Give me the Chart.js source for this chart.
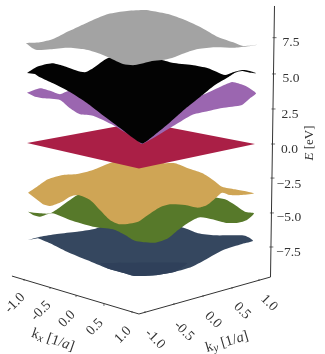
<!DOCTYPE html>
<html>
<head>
<meta charset="utf-8">
<script src="https://cdn.jsdelivr.net/npm/chart.js@4"></script>
<style>
  html, body { margin: 0; padding: 0; background: #fff; }
  canvas { display: block; }
</style>
</head>
<body>
<canvas id="bands" width="325" height="354"></canvas>
<script>
// Band outlines as seen from the camera: u = position across the view, E = energy on the vertical axis
const greyU = [-1.01, -0.886, -0.772, -0.667, -0.553, -0.421, -0.289, -0.123, 0.035, 0.096, 0.237, 0.386, 0.535, 0.675, 0.825, 0.895, 1.018, 0.939, 0.825, 0.649, 0.5, 0.386, 0.272, 0.184, 0.096, -0.053, -0.158, -0.272, -0.386, -0.509, -0.649, -0.798, -0.912, -0.956];
const greyE = [7.27, 7.32, 7.55, 7.99, 8.42, 8.92, 9.35, 9.57, 9.64, 9.57, 9.35, 8.92, 8.35, 7.7, 7.27, 7.05, 7.14, 7.03, 6.93, 6.96, 6.83, 6.55, 6.19, 6.04, 5.97, 5.68, 5.76, 6.19, 6.57, 6.83, 6.93, 6.81, 6.76, 6.91];

const blackU = [-1.0, -0.912, -0.781, -0.684, -0.561, -0.491, -0.421, -0.289, -0.053, 0.184, 0.272, 0.447, 0.588, 0.737, 0.798, 0.886, 0.956, 1.009, 0.956, 0.886, 0.825, 0.763, 0.649, 0.518, 0.386, 0.237, 0.096, 0.009, -0.184, -0.36, -0.474, -0.623, -0.772, -0.886, -0.93];
const blackE = [5.11, 5.56, 5.81, 5.63, 5.27, 5.16, 5.45, 6.19, 6.4, 6.04, 5.85, 5.68, 5.45, 4.96, 5.13, 5.32, 5.25, 5.09, 5.13, 5.25, 5.13, 4.8, 4.24, 3.38, 2.52, 1.44, 0.5, 0.04, 1.15, 2.23, 2.95, 3.74, 4.37, 4.8, 5.04];

const purpleU = [-1.0, -0.886, -0.798, -0.711, -0.632, -0.36, 0, 0.43, 0.561, 0.711, 0.798, 0.851, 0.93, 1.009, 0.956, 0.886, 0.711, 0.561, 0.447, 0.298, 0.009, -0.035, -0.246, -0.421, -0.535, -0.623, -0.711, -0.86, -0.93];
const purpleE = [3.69, 4.01, 3.83, 3.58, 3.81, 3.17, 1.01, 3.17, 3.6, 4.17, 4.46, 4.37, 4.12, 3.65, 3.29, 2.81, 2.59, 2.32, 2.09, 1.37, 0, 0.29, 1.37, 2.04, 2.14, 2.57, 3.17, 3.29, 3.4];

const redU = [-1.0, 0, 1.0, -0.018];
const redE = [0.07, 1.58, 0, -1.76];

const yellowU = [-0.991, -0.912, -0.816, -0.684, -0.561, -0.421, -0.272, 0, 0.193, 0.298, 0.412, 0.535, 0.632, 0.711, 0.825, 0.991, 0.886, 0.781, 0.711, 0.667, 0.579, 0.5, 0.386, 0.254, 0.167, 0.061, -0.026, -0.184, -0.272, -0.36, -0.447, -0.553, -0.623, -0.693, -0.798, -0.86];
const yellowE = [-3.5, -3.07, -2.54, -2.23, -2.16, -1.87, -1.37, -0.79, -1.37, -1.39, -1.75, -2.09, -2.59, -3.07, -3.26, -3.55, -3.67, -3.67, -3.5, -3.79, -4.39, -4.58, -4.39, -4.34, -4.55, -5.11, -5.59, -5.78, -5.47, -4.75, -4.03, -3.67, -3.79, -4.15, -4.46, -4.34];

const greenU = [-0.991, -0.886, -0.798, -0.711, -0.623, -0.553, 0, 0.518, 0.649, 0.737, 0.825, 0.912, 0.991, 0.93, 0.851, 0.737, 0.623, 0.518, 0.43, 0.325, 0.237, 0.123, -0.053, -0.14, -0.246, -0.421, -0.623, -0.781, -0.886, -0.947];
const greenE = [-4.87, -4.99, -4.99, -4.55, -4.03, -3.67, -2.95, -3.31, -3.83, -3.98, -4.39, -4.87, -4.99, -5.47, -5.66, -5.66, -5.42, -5.27, -5.59, -6.19, -6.78, -7.1, -6.96, -6.55, -6.14, -5.95, -5.47, -4.99, -5.23, -5.11];

const blueU = [-0.991, -0.886, -0.737, -0.561, -0.421, 0, 0.386, 0.5, 0.649, 0.798, 0.912, 0.982, 0.886, 0.737, 0.588, 0.447, 0.298, 0.123, -0.053, -0.123, -0.298, -0.474, -0.649, -0.798, -0.904];
const blueE = [-6.91, -6.67, -6.47, -6.31, -6.14, -5.11, -6.06, -6.42, -6.57, -6.57, -6.6, -6.96, -7.19, -7.58, -8.22, -8.83, -9.19, -9.45, -9.5, -9.35, -8.94, -8.35, -7.75, -7.14, -6.78];

// darker front fold of the lowest band
const blueFoldU = [-0.36, 0.404, 0.298, 0.123, -0.053, -0.123, -0.298];
const blueFoldE = [-8.56, -8.56, -9.19, -9.45, -9.5, -9.35, -8.94];

// Box edges
const axisU = [-1.132, -0.018, 1.136, 1.171];
const axisE = [-9.5, -12.23, -9.57, 9.93];

// E axis ticks
const energyLabels = ['7.5', '5.0', '2.5', '0.0', '\u22122.5', '\u22125.0', '\u22127.5'];
const energyTickU = [1.167, 1.162, 1.158, 1.154, 1.149, 1.144, 1.139];
const energyTickE = [7.65, 5.04, 2.52, 0, -2.45, -4.96, -7.41];
const energyLabelU = [1.316, 1.316, 1.307, 1.303, 1.298, 1.298, 1.294];
const energyLabelE = [7.27, 4.7, 2.16, -0.36, -2.88, -5.3, -7.77];

// kx and ky ticks share the same labels
const momentumLabels = ['-1.0', '-0.5', '0.0', '0.5', '1.0'];
const kxTickU = [-1.026, -0.798, -0.57, -0.325, -0.079];
const kxTickE = [-9.78, -10.36, -10.94, -11.58, -12.09];
const kyTickU = [0.035, 0.289, 0.544, 0.798, 1.035];
const kyTickE = [-12.09, -11.51, -10.94, -10.36, -9.78];
const kxLabelU = [-1.105, -0.877, -0.649, -0.404, -0.158];
const kxLabelE = [-11.44, -12.01, -12.59, -13.17, -13.74];
const kyLabelU = [0.123, 0.377, 0.632, 0.886, 1.123];
const kyLabelE = [-14.03, -13.45, -12.66, -12.01, -11.44];

const FONT = '"Liberation Serif", serif';

function band(us, es, color, tension) {
  return {
    data: us.map((u, i) => ({ x: u, y: es[i] })),
    showLine: true,
    fill: 'shape',
    backgroundColor: color,
    borderWidth: 0,
    pointRadius: 0,
    tension: tension
  };
}

// Draws "k_x [1/a]" style labels piece by piece, centred and rotated
function drawRuns(ctx, runs, x, y, angle, size) {
  ctx.save();
  ctx.translate(x, y);
  ctx.rotate(angle);
  ctx.textAlign = 'left';
  ctx.textBaseline = 'middle';
  const fontFor = r => (r.italic ? 'italic ' : '') + (r.sub ? size - 3 : size) + 'px ' + FONT;
  let width = 0;
  runs.forEach(r => { ctx.font = fontFor(r); width += ctx.measureText(r.text).width; });
  let pos = -width / 2;
  runs.forEach(r => {
    ctx.font = fontFor(r);
    ctx.fillText(r.text, pos, r.sub ? 3 : 0);
    pos += ctx.measureText(r.text).width;
  });
  ctx.restore();
}

const axisText = {
  id: 'axisText',
  afterDatasetsDraw(chart) {
    const ctx = chart.ctx;
    const sx = chart.scales.x;
    const sy = chart.scales.y;
    const px = u => sx.getPixelForValue(u);
    const py = e => sy.getPixelForValue(e);

    ctx.save();
    ctx.fillStyle = '#333';
    ctx.strokeStyle = '#333';
    ctx.lineWidth = 0.7;

    energyLabels.forEach((label, i) => {
      ctx.beginPath();
      ctx.moveTo(px(energyTickU[i]) - 1.5, py(energyTickE[i]));
      ctx.lineTo(px(energyTickU[i]) + 2.5, py(energyTickE[i]));
      ctx.stroke();
      drawRuns(ctx, [{ text: label }], px(energyLabelU[i]), py(energyLabelE[i]), 0, 13.5);
    });

    momentumLabels.forEach((label, i) => {
      // little ticks on the floor edges
      ctx.beginPath();
      ctx.moveTo(px(kxTickU[i]), py(kxTickE[i]) - 1);
      ctx.lineTo(px(kxTickU[i]), py(kxTickE[i]) + 1);
      ctx.moveTo(px(kyTickU[i]), py(kyTickE[i]) - 1);
      ctx.lineTo(px(kyTickU[i]), py(kyTickE[i]) + 1);
      ctx.stroke();
      drawRuns(ctx, [{ text: label }], px(kxLabelU[i]), py(kxLabelE[i]), -Math.PI / 4, 14);
      drawRuns(ctx, [{ text: label }], px(kyLabelU[i]), py(kyLabelE[i]), Math.PI / 4, 14);
    });

    drawRuns(ctx, [{ text: 'k' }, { text: 'x', sub: true, italic: true }, { text: ' [1/' }, { text: 'a', italic: true }, { text: ']' }],
      px(-0.772), py(-14.1), 0.33, 14.5);
    drawRuns(ctx, [{ text: 'k' }, { text: 'y', sub: true, italic: true }, { text: ' [1/' }, { text: 'a', italic: true }, { text: ']' }],
      px(0.754), py(-14.24), -0.29, 14.5);
    drawRuns(ctx, [{ text: 'E', italic: true }, { text: ' [eV]' }], px(1.482), py(0.07), -Math.PI / 2, 13);
    ctx.restore();
  }
};

new Chart(document.getElementById('bands'), {
  type: 'scatter',
  data: {
    datasets: [
      // first dataset ends up on top
      {
        data: axisU.map((u, i) => ({ x: u, y: axisE[i] })),
        showLine: true,
        borderColor: '#333',
        borderWidth: 1,
        pointRadius: 0
      },
      band(greyU, greyE, '#a3a3a3', 0.25),
      band(blackU, blackE, '#030303', 0.2),
      band(purpleU, purpleE, '#9b66b0', 0.2),
      band(redU, redE, '#aa1f46', 0),
      band(yellowU, yellowE, '#cfa555', 0.25),
      band(greenU, greenE, '#57792a', 0.25),
      band(blueFoldU, blueFoldE, '#2f405a', 0.15),
      band(blueU, blueE, '#35475f', 0.25)
    ]
  },
  options: {
    responsive: false,
    animation: false,
    events: [],
    layout: { padding: 0 },
    plugins: { legend: { display: false }, tooltip: { enabled: false } },
    scales: {
      x: { display: false, min: -1.2368, max: 1.614 },
      y: { display: false, min: -15.108, max: 10.36 }
    }
  },
  plugins: [axisText]
});
</script>
</body>
</html>
